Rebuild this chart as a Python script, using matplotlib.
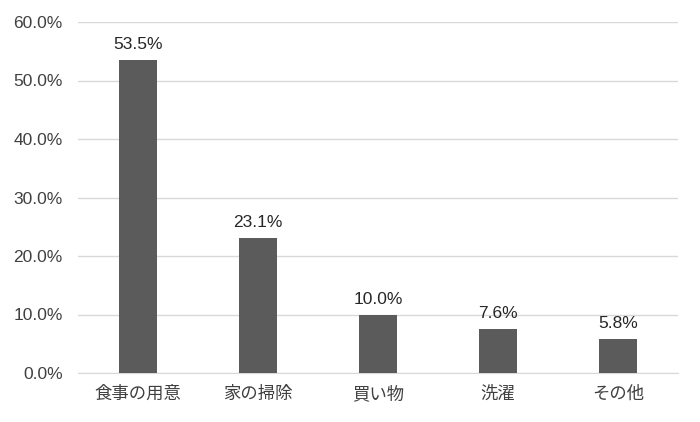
import matplotlib
matplotlib.use("Agg")
import matplotlib.pyplot as plt
from matplotlib.ticker import FuncFormatter, MultipleLocator

categories = ["食事の用意", "家の掃除", "買い物", "洗濯", "その他"]
values = [53.5, 23.1, 10.0, 7.6, 5.8]

plt.rcParams['font.family'] = ['Liberation Sans', 'Noto Sans CJK JP', 'DejaVu Sans']

fig = plt.figure(figsize=(7.0, 4.22), dpi=100)
ax = fig.add_axes([78/700, 49/422, 600/700, 351/422])

x = range(len(categories))
ax.bar(x, values, width=38/120, color="#5b5b5b", zorder=3)
for xi, v in zip(x, values):
    ax.annotate(f"{v:.1f}%", (xi, v), xytext=(0, 5.5), textcoords="offset points",
                ha="center", va="bottom", fontsize=12.5, color="#262626")

ax.set_xlim(-0.5, len(categories) - 0.5)
ax.set_ylim(0, 60)
ax.yaxis.set_major_locator(MultipleLocator(10))
ax.yaxis.set_major_formatter(FuncFormatter(lambda v, p: f"{v:.1f}%"))
ax.set_xticks(list(x))
ax.set_xticklabels(categories, fontsize=12.5)
ax.grid(axis="y", color="#d9d9d9", linewidth=1, zorder=0)
for s in ["top", "right", "left"]:
    ax.spines[s].set_visible(False)
ax.spines["bottom"].set_color("#d9d9d9")
ax.tick_params(axis="both", length=0, labelsize=12.5, colors="#404040")
ax.tick_params(axis="x", pad=9)
ax.tick_params(axis="y", pad=11)

fig.savefig("out.png", dpi=100)
